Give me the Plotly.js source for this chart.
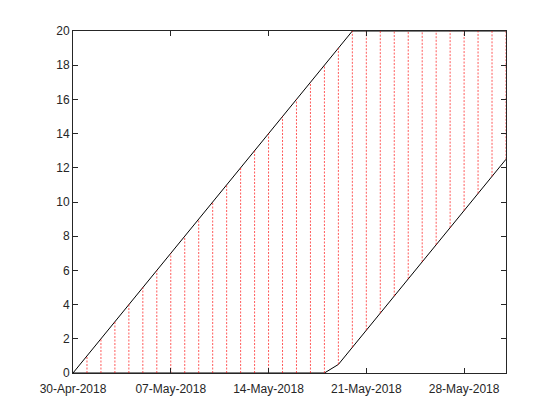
<!DOCTYPE html>
<html>
<head>
<meta charset="utf-8">
<script src="https://cdn.plot.ly/plotly-3.0.1.min.js"></script>
<style>
  body { margin: 0; background: #fff; }
  #myDiv { width: 560px; height: 420px; }
</style>
</head>
<body>
<div id="myDiv"></div>
<script>
// one entry per day, 30-Apr-2018 .. 31-May-2018
var days = [
  '2018-04-30', '2018-05-01', '2018-05-02', '2018-05-03', '2018-05-04',
  '2018-05-05', '2018-05-06', '2018-05-07', '2018-05-08', '2018-05-09',
  '2018-05-10', '2018-05-11', '2018-05-12', '2018-05-13', '2018-05-14',
  '2018-05-15', '2018-05-16', '2018-05-17', '2018-05-18', '2018-05-19',
  '2018-05-20', '2018-05-21', '2018-05-22', '2018-05-23', '2018-05-24',
  '2018-05-25', '2018-05-26', '2018-05-27', '2018-05-28', '2018-05-29',
  '2018-05-30', '2018-05-31'
];
var upper = [
  0, 1, 2, 3, 4, 5, 6, 7, 8, 9,
  10, 11, 12, 13, 14, 15, 16, 17, 18, 19,
  20, 20, 20, 20, 20, 20, 20, 20, 20, 20,
  20, 20
];
var lower = [
  0, 0, 0, 0, 0, 0, 0, 0, 0, 0,
  0, 0, 0, 0, 0, 0, 0, 0, 0, 0.5,
  1.5, 2.5, 3.5, 4.5, 5.5, 6.5, 7.5, 8.5, 9.5, 10.5,
  11.5, 12.5
];
var tickDays = ['2018-04-30', '2018-05-07', '2018-05-14', '2018-05-21', '2018-05-28'];
var yTicks = [0, 2, 4, 6, 8, 10, 12, 14, 16, 18, 20];

// red dotted verticals between the two curves, one per day
var vx = [], vy = [];
for (var i = 0; i < days.length; i++) {
  vx.push(days[i], days[i], null);
  vy.push(lower[i], upper[i], null);
}

var trace1 = {
  x: days, y: upper, type: 'scatter', mode: 'lines',
  line: { color: 'black', width: 1 }, hoverinfo: 'skip'
};
var trace2 = {
  x: days, y: lower, type: 'scatter', mode: 'lines',
  line: { color: 'black', width: 1 }, hoverinfo: 'skip'
};
var trace3 = {
  x: vx, y: vy, type: 'scatter', mode: 'lines',
  line: { color: 'rgba(255, 0, 0, 0.65)', width: 1, dash: '2px,1.5px' },
  hoverinfo: 'skip'
};

var data = [trace1, trace2, trace3];

var axisStyle = {
  showline: true,
  linecolor: '#262626',
  linewidth: 1,
  mirror: 'ticks',
  ticks: 'inside',
  ticklen: 5,
  tickcolor: '#262626',
  showgrid: false,
  zeroline: false,
  tickfont: { size: 12, color: '#262626' }
};

var layout = {
  width: 560,
  height: 420,
  margin: { l: 73, r: 54, t: 31, b: 47 },
  showlegend: false,
  font: { family: 'Liberation Sans, Arial, sans-serif', size: 12, color: '#262626' },
  plot_bgcolor: 'white',
  paper_bgcolor: 'white',
  xaxis: Object.assign({}, axisStyle, {
    type: 'date',
    range: ['2018-04-30', '2018-05-31'],
    tickvals: tickDays,
    tickformat: '%d-%b-%Y',
    ticklabelstandoff: 5
  }),
  yaxis: Object.assign({}, axisStyle, {
    range: [0, 20],
    tickvals: yTicks
  })
};

Plotly.newPlot('myDiv', data, layout, { displayModeBar: false, staticPlot: true });
</script>
</body>
</html>
